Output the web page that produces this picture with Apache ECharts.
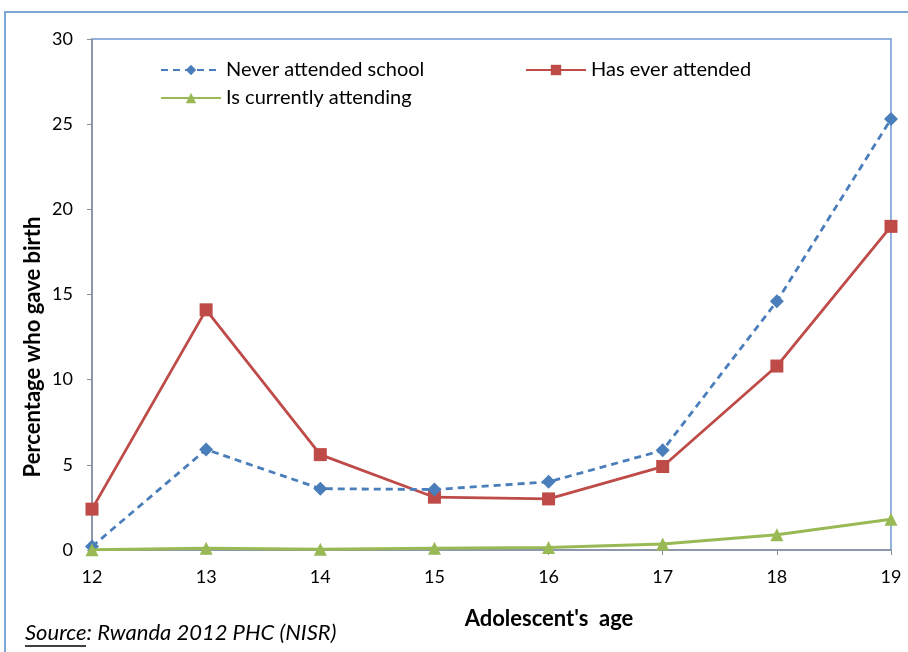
<!DOCTYPE html>
<html><head><meta charset="utf-8">
<script src="https://cdn.jsdelivr.net/npm/echarts@6/dist/echarts.min.js"></script>
<style>html,body{margin:0;padding:0;background:#fff}#c{width:908px;height:652px}</style>
</head><body><div id="c"></div>
<script>
const ages = ['12','13','14','15','16','17','18','19'];
const neverAttended = [0.2, 5.9, 3.6, 3.55, 4.0, 5.85, 14.6, 25.3];
const hasEverAttended = [2.4, 14.1, 5.6, 3.1, 3.0, 4.9, 10.8, 19.0];
const currentlyAttending = [0.02, 0.1, 0.05, 0.1, 0.15, 0.35, 0.9, 1.8];
const yTicks = [0, 5, 10, 15, 20, 25, 30];
const xTitle = "Adolescent's  age";
const yTitle = 'Percentage who gave birth';
const source = 'Source: Rwanda 2012 PHC (NISR)';

const FONT = 'Lato';
const chart = echarts.init(document.getElementById('c'), null, {renderer: 'canvas'});
const legendCommon = {itemWidth: 60, itemHeight: 13, itemGap: 0,
  textStyle: {fontFamily: FONT, fontSize: 20, color: '#000', padding: [0,0,0,0]}};
chart.setOption({
  animation: false,
  backgroundColor: '#fff',
  textStyle: {fontFamily: FONT},
  grid: {left: 92, right: 17, top: 39, bottom: 102, show: true, borderColor: '#6f9bd6', borderWidth: 1.5},
  legend: [
    Object.assign({data: ['Never attended school'], left: 155, top: 55}, legendCommon),
    Object.assign({data: ['Has ever attended'], left: 520, top: 55}, legendCommon),
    Object.assign({data: ['Is currently attending'], left: 155, top: 83}, legendCommon)
  ],
  xAxis: {
    type: 'category', data: ages, boundaryGap: false,
    axisLine: {lineStyle: {color: '#8a8f99', width: 1.5}},
    axisTick: {show: true, alignWithLabel: true, length: 5, lineStyle: {color: '#8a8f99'}},
    axisLabel: {fontFamily: FONT, fontSize: 18, color: '#000', margin: 18},
    splitLine: {show: false}
  },
  yAxis: {
    type: 'value', min: 0, max: 30, interval: 5,
    axisLine: {show: true, lineStyle: {color: '#8a8f99', width: 1.5}},
    axisTick: {show: true, length: 5, lineStyle: {color: '#8a8f99'}},
    axisLabel: {fontFamily: FONT, fontSize: 18, color: '#000', margin: 19,
      formatter: v => yTicks.includes(v) ? String(v) : ''},
    splitLine: {show: false}
  },
  series: [
    {name: 'Never attended school', type: 'line', data: neverAttended,
     symbol: 'diamond', symbolSize: 14,
     lineStyle: {color: '#4a7ebb', width: 2.8, type: [7, 5]},
     itemStyle: {color: '#4a7ebb'}, z: 3},
    {name: 'Has ever attended', type: 'line', data: hasEverAttended,
     symbol: 'rect', symbolSize: 13,
     lineStyle: {color: '#be4b48', width: 2.8},
     itemStyle: {color: '#be4b48'}, z: 2},
    {name: 'Is currently attending', type: 'line', data: currentlyAttending,
     symbol: 'triangle', symbolSize: 13,
     lineStyle: {color: '#98b954', width: 3},
     itemStyle: {color: '#98b954'}, z: 4}
  ],
  graphic: [
    {type: 'rect', shape: {x: 5, y: 12, width: 1000, height: 1000}, style: {fill: 'none', stroke: '#7fa6d8', lineWidth: 2}, silent: true},
    {type: 'text', x: 549, y: 619, style: {text: xTitle, fontFamily: FONT, fontSize: 22, fontWeight: 'bold', fill: '#000', align: 'center', verticalAlign: 'middle'}},
    {type: 'text', x: 33, y: 347, rotation: Math.PI / 2, style: {text: yTitle, fontFamily: FONT, fontSize: 22, fontWeight: 'bold', fill: '#000', align: 'center', verticalAlign: 'middle'}},
    {type: 'text', x: 25, y: 633, style: {text: source, fontFamily: FONT, fontSize: 22, fontStyle: 'italic', fill: '#000', verticalAlign: 'middle'}},
    {type: 'line', shape: {x1: 25, y1: 646, x2: 86, y2: 646}, style: {stroke: '#000', lineWidth: 1.3}}
  ]
});
</script></body></html>
